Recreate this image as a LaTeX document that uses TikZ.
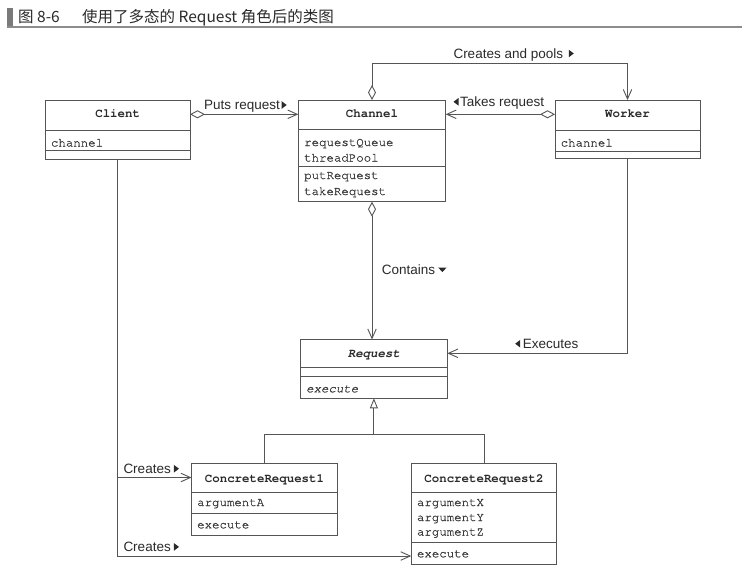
\documentclass[tikz,border=0pt]{standalone}
\usepackage{fontspec}
\setmainfont{Liberation Sans}
\setmonofont{texgyrecursor}[Extension=.otf, UprightFont=*-regular, BoldFont=*-bold, ItalicFont=*-italic, BoldItalicFont=*-bolditalic]
\newfontfamily\attrfont{texgyrecursor}[Extension=.otf, UprightFont=*-regular, ItalicFont=*-italic, FakeBold=0.9]
\newfontfamily\cjkfont{Noto Sans CJK SC}
\usetikzlibrary{arrows.meta}
\definecolor{linec}{HTML}{555555}
\definecolor{txtc}{HTML}{2A2A2A}
\definecolor{attrc}{HTML}{3A3A3A}
\definecolor{barc}{HTML}{7A7A7A}
\definecolor{rulec}{HTML}{8C8C8C}
\newcommand\umlbox[5]{%
  \node[clsbox, minimum width={#4-#2}, minimum height={#5-#3}] (#1) at ({(#2+#4)/2},{(#3+#5)/2}) {};}
\tikzset{
  clsbox/.style={draw=linec, line width=0.9pt, fill=white, inner sep=0pt, outer sep=0pt, rectangle},
  sepline/.style={draw=linec, line width=0.9pt},
  conn/.style={draw=linec, line width=0.9pt},
  aggarrow/.style={conn, {Diamond[length=15pt,width=8pt,fill=white]}-{Straight Barb[length=9.5pt,width=8.5pt]}},
  navarrow/.style={conn, -{Straight Barb[length=9.5pt,width=8.5pt]}},
  genarrow/.style={conn, -{Triangle[length=10pt,width=8pt,fill=white]}},
  cname/.style={font=\fontsize{12.4}{14}\ttfamily\bfseries, text=txtc, inner sep=0pt, anchor=base},
  attr/.style={font=\attrfont\fontsize{12.4}{14}\selectfont, text=attrc, inner sep=0pt, anchor=base west},
  lbl/.style={font=\fontsize{13.5}{16}\selectfont, text=txtc, inner sep=0pt, anchor=base west},
  ttl/.style={font=\cjkfont\fontsize{15.5}{18}\selectfont, text=txtc, inner sep=0pt, anchor=base west},
  rtri/.pic={\fill[txtc] (0,-3.8) -- (0,3.8) -- (5,0) -- cycle;},
  ltri/.pic={\fill[txtc] (0,-3.8) -- (0,3.8) -- (-5,0) -- cycle;},
  dtri/.pic={\fill[txtc] (-4.2,-2) -- (4.2,-2) -- (0,2.6) -- cycle;}
}
\begin{document}
\begin{tikzpicture}[x=1pt,y=-1pt]
\useasboundingbox (0,0) rectangle (749,574);
\fill[white] (0,0) rectangle (749,574);

% header
\fill[barc] (7.3,8.3) rectangle (13.3,26.7);
\draw[rulec, line width=1.2pt] (7.3,27) -- (742,27);
\node[ttl] (fignum) at (18,22.7) {图 8-6};
\node[ttl] (figtitle) at (82,22.7) {使用了多态的 Request 角色后的类图};

% Client
\umlbox{client}{45.3}{100}{190}{159.3}
\draw[sepline] (client.west |- 0,130) -- (client.east |- 0,130);
\draw[sepline] (client.west |- 0,150) -- (client.east |- 0,150);
\node[cname] (clientname) at (client.center |- 0,117.7) {Client};
\node[attr] (clientattr) at (50.8,146.5) {channel};

% Channel
\umlbox{channel}{298.3}{100}{445.7}{201.7}
\draw[sepline] (channel.west |- 0,129.5) -- (channel.east |- 0,129.5);
\draw[sepline] (channel.west |- 0,166.5) -- (channel.east |- 0,166.5);
\node[cname] (channelname) at (channel.center |- 0,117.7) {Channel};
\node[attr] (cha1) at (304,146) {requestQueue};
\node[attr] (cha2) at (304,161.5) {threadPool};
\node[attr] (cho1) at (304,179) {putRequest};
\node[attr] (cho2) at (304,195) {takeRequest};

% Worker
\umlbox{worker}{555}{100}{700}{158}
\draw[sepline] (worker.west |- 0,130) -- (worker.east |- 0,130);
\draw[sepline] (worker.west |- 0,151) -- (worker.east |- 0,151);
\node[cname] (workername) at (worker.center |- 0,117.7) {Worker};
\node[attr] (workerattr) at (560.5,146.5) {channel};

% Request
\umlbox{request}{300.5}{339.5}{447.3}{398.3}
\draw[sepline] (request.west |- 0,367.7) -- (request.east |- 0,367.7);
\draw[sepline] (request.west |- 0,376.7) -- (request.east |- 0,376.7);
\node[cname, font=\fontsize{12.4}{14}\ttfamily\bfseries\itshape] (requestname) at (request.center |- 0,357) {Request};
\node[attr, font=\attrfont\fontsize{12.4}{14}\selectfont\itshape] (requestop) at (306,392.3) {execute};

% ConcreteRequest1
\umlbox{cr1}{191.5}{463.3}{337.5}{535}
\draw[sepline] (cr1.west |- 0,492.5) -- (cr1.east |- 0,492.5);
\draw[sepline] (cr1.west |- 0,513.3) -- (cr1.east |- 0,513.3);
\node[cname] (cr1name) at (cr1.center |- 0,482.5) {ConcreteRequest1};
\node[attr] (cr1a) at (197,506) {argumentA};
\node[attr] (cr1o) at (197,528.3) {execute};

% ConcreteRequest2
\umlbox{cr2}{411.3}{463.3}{556.7}{564.3}
\draw[sepline] (cr2.west |- 0,492.3) -- (cr2.east |- 0,492.3);
\draw[sepline] (cr2.west |- 0,542.5) -- (cr2.east |- 0,542.5);
\node[cname] (cr2name) at (cr2.center |- 0,482.5) {ConcreteRequest2};
\node[attr] (cr2a1) at (416.8,506) {argumentX};
\node[attr] (cr2a2) at (416.8,521) {argumentY};
\node[attr] (cr2a3) at (416.8,535.5) {argumentZ};
\node[attr] (cr2o) at (416.8,557.3) {execute};

% connectors
\draw[aggarrow] (client.east |- 0,114.3) -- (channel.west |- 0,114.3);
\draw[aggarrow] (worker.west |- 0,114.3) -- (channel.east |- 0,114.3);
\draw[aggarrow] (channel.north) -- ++(0,-37) -| (worker.north);
\draw[aggarrow] (channel.south) -- (channel.south |- request.north);
\draw[navarrow] (worker.south) |- (request.east |- 0,353.3);
\coordinate (genj) at (request.south |- 0,434.3);
\draw[genarrow] (cr1.north) |- (genj) -- (request.south);
\draw[conn] (cr2.north) |- (genj);
\draw[navarrow] (client.south) |- (cr2.west |- 0,556);
\draw[navarrow] (client.south |- 0,477.5) -- (cr1.west |- 0,477.5);

% labels
\node[lbl] (lputs) at (204,109.8) {Puts request};
\pic at ([xshift=1.5pt,yshift=4.8pt]lputs.base east) {rtri};
\node[lbl] (ltakes) at (460,106.6) {Takes request};
\pic at ([xshift=-1.5pt,yshift=4.8pt]ltakes.base west) {ltri};
\node[lbl] (lpools) at (453.3,58.3) {Creates and pools};
\pic at ([xshift=5.5pt,yshift=4.8pt]lpools.base east) {rtri};
\node[lbl] (lcontains) at (381.7,274.3) {Contains};
\pic at ([xshift=7pt,yshift=4.8pt]lcontains.base east) {dtri};
\node[lbl] (lexec) at (522.7,348.5) {Executes};
\pic at ([xshift=-2.5pt,yshift=4.8pt]lexec.base west) {ltri};
\node[lbl] (lcr1) at (123.3,473.5) {Creates};
\pic at ([xshift=3pt,yshift=4.8pt]lcr1.base east) {rtri};
\node[lbl] (lcr2) at (123.3,551.7) {Creates};
\pic at ([xshift=3pt,yshift=4.8pt]lcr2.base east) {rtri};
\end{tikzpicture}
\end{document}
